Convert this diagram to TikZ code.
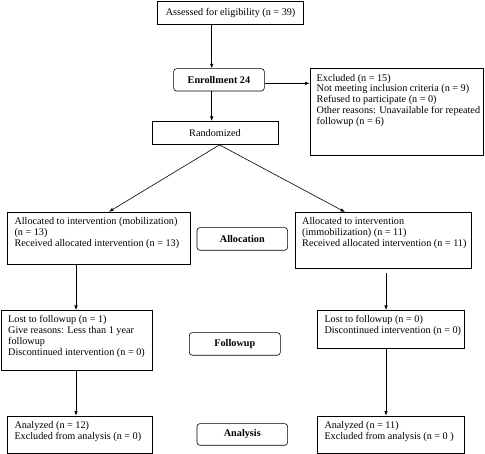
\documentclass[tikz,border=0pt]{standalone}
\usepackage{fontspec}
\setmainfont{Liberation Serif}
\usetikzlibrary{arrows.meta,positioning}

\begin{document}
\begin{tikzpicture}[x=1pt,y=-1pt,font=\fontsize{10.2}{10.8}\selectfont,
  box/.style={rectangle,draw,line width=.6pt,anchor=north west,inner sep=0pt},
  stage/.style={box,rounded corners=3pt,font=\fontsize{10.2}{10.8}\selectfont\bfseries},
  txt/.style={anchor=north west,align=left,inner xsep=7pt,inner ysep=5.5pt},
  arr/.style={-{Latex[length=4.5pt,width=3.5pt]},line width=.6pt}]
\useasboundingbox (0,0) rectangle (485,454);

% columns
\coordinate (mx) at (211.7,0);
\coordinate (lx) at (76,0);
\coordinate (rx) at (386,0);
\coordinate (dl) at (109,0);
\coordinate (dr) at (345,0);

% Nodes
\node[box,minimum width=146,minimum height=23.3] (assess) at (157.3,0.7) {Assessed for eligibility (n = 39)};
\node[stage,minimum width=90.7,minimum height=22.4] (enrol) at (173.3,68.3) {Enrollment 24};
\node[box,minimum width=173.5,minimum height=86.7] (excl) at (309.5,68.3) {};
\node[txt] (excltxt) at (excl.north west) {Excluded (n = 15)\\Not meeting inclusion criteria (n = 9)\\Refused to participate (n = 0)\\Other reasons: Unavailable for repeated\\followup (n = 6)};
\node[box,minimum width=126,minimum height=23.3] (rand) at (151.7,121) {Randomized};

\node[box,minimum width=182.7,minimum height=52.5] (lalloc) at (7.3,211.7) {};
\node[txt] (lalloctxt) at (lalloc.north west) {Allocated to intervention (mobilization)\\(n = 13)\\Received allocated intervention (n = 13)};
\node[stage,minimum width=90.6,minimum height=22.7] (alloc) at (196.7,227.3) {Allocation};
\node[box,minimum width=175.7,minimum height=56.3] (ralloc) at (295,212) {};
\node[txt] (ralloctxt) at (ralloc.north west) {Allocated to intervention\\(immobilization) (n = 11)\\Received allocated intervention (n = 11)};

\node[box,minimum width=150.7,minimum height=60] (lfol) at (1,310) {};
\node[txt] (lfoltxt) at (lfol.north west) {Lost to followup (n = 1)\\Give reasons: Less than 1 year\\followup\\Discontinued intervention (n = 0)};
\node[stage,minimum width=91,minimum height=22.7] (fol) at (189,332.3) {Followup};
\node[box,minimum width=147,minimum height=37.7] (rfol) at (317.3,310) {};
\node[txt] (rfoltxt) at (rfol.north west) {Lost to followup (n = 0)\\Discontinued intervention (n = 0)};

\node[box,minimum width=144.4,minimum height=37.6] (lana) at (7.3,415.7) {};
\node[txt] (lanatxt) at (lana.north west) {Analyzed (n = 12)\\Excluded from analysis (n = 0)};
\node[stage,minimum width=90.6,minimum height=21.7] (ana) at (196.7,423.3) {Analysis};
\node[box,minimum width=146.7,minimum height=37.6] (rana) at (317.3,415.7) {};
\node[txt] (ranatxt) at (rana.north west) {Analyzed (n = 11)\\Excluded from analysis (n = 0 )};

%arcs
\path (assess.south -| mx) edge[arr] (enrol.north -| mx);
\path (enrol.south -| mx) edge[arr] (rand.north -| mx);
\path ([yshift=-3.6pt]enrol.east) edge[arr] ([yshift=-3.6pt]enrol.east -| excl.west);
\path ([xshift=4.5pt]rand.south) edge[arr] (lalloc.north -| dl);
\path ([xshift=4.5pt]rand.south) edge[arr] (ralloc.north -| dr);
\path (lalloc.south -| lx) edge[arr] (lfol.north -| lx);
\path ([yshift=-4pt]ralloc.south -| rx) edge[arr] (rfol.north -| rx);
\path (lfol.south -| lx) edge[arr] (lana.north -| lx);
\path (rfol.south -| rx) edge[arr] (rana.north -| rx);
\end{tikzpicture}
\end{document}
